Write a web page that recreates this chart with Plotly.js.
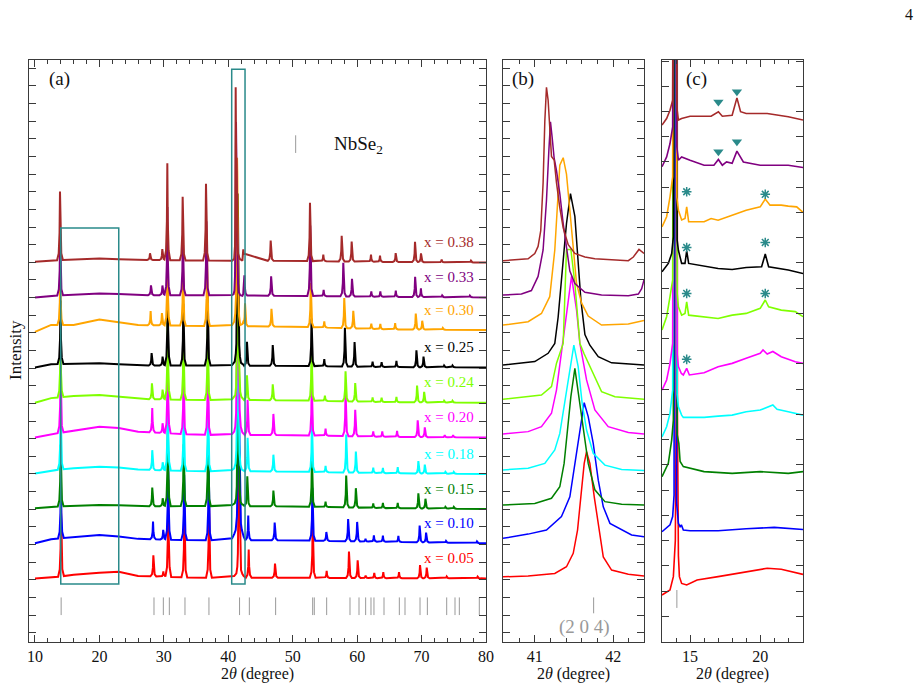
<!DOCTYPE html>
<html>
<head>
<meta charset="utf-8">
<script src="https://cdn.plot.ly/plotly-3.0.1.min.js"></script>
<style>
  html, body { margin: 0; padding: 0; background: #fff; }
  #chart { width: 919px; height: 687px; }
</style>
</head>
<body>
<div id="chart"></div>
<script>
// ---------------------------------------------------------------
// Nb(1-x)Se2 style powder patterns, offset vertically (x = 0.05 ... 0.38)
// ---------------------------------------------------------------
const compositions = ['x = 0.05', 'x = 0.10', 'x = 0.15', 'x = 0.18', 'x = 0.20',
                      'x = 0.24', 'x = 0.25', 'x = 0.30', 'x = 0.33', 'x = 0.38'];

// background of each offset pattern, [2θ, intensity]
const background = [
  [[10, 3.08], [12.5, 3.12], [16, 3.28], [20, 3.4], [23, 3.45], [26, 3.22], [35, 3.12], [50, 3.12], [65, 3.09], [80, 3.08]],
  [[10, 5.07], [12.5, 5.3], [16, 5.42], [20, 5.54], [23, 5.45], [26, 5.32], [35, 5.24], [50, 5.24], [65, 5.15], [80, 5.07]],
  [[10, 7.05], [12.5, 7.14], [16, 7.2], [20, 7.24], [23, 7.22], [26, 7.17], [35, 7.18], [50, 7.16], [65, 7.06], [80, 7.02]],
  [[10, 9.03], [12.5, 9.2], [16, 9.32], [20, 9.41], [23, 9.36], [26, 9.25], [35, 9.16], [50, 9.14], [65, 9.04], [80, 9.0]],
  [[10, 11.07], [12.5, 11.25], [16, 11.45], [20, 11.68], [23, 11.6], [26, 11.4], [35, 11.22], [50, 11.2], [65, 11.1], [80, 11.07]],
  [[10, 13.04], [12.5, 13.3], [16, 13.42], [20, 13.47], [23, 13.38], [26, 13.25], [35, 13.2], [50, 13.18], [65, 13.07], [80, 13.04]],
  [[10, 15.04], [12.5, 15.22], [16, 15.25], [20, 15.27], [23, 15.22], [26, 15.15], [35, 15.15], [50, 15.13], [65, 15.06], [80, 15.04]],
  [[10, 17.06], [12.5, 17.45], [16, 17.44], [20, 17.76], [23, 17.62], [26, 17.44], [35, 17.4], [50, 17.35], [65, 17.2], [80, 17.16]],
  [[10, 19.01], [12.5, 19.1], [16, 19.16], [20, 19.23], [23, 19.2], [26, 19.14], [35, 19.13], [50, 19.1], [65, 19.04], [80, 19.01]],
  [[10, 21.03], [12.5, 21.1], [16, 21.15], [20, 21.22], [23, 21.18], [26, 21.14], [35, 21.1], [50, 21.08], [65, 21.02], [80, 20.99]]
];

// Bragg peaks of each pattern outside the (2 0 4) window: positions (degree) and heights
const peakPositions = [
  [14.04, 28.37, 29.92, 30.69, 33.18, 37.0, 43.17, 47.25, 53.1, 55.27, 58.73, 60.08, 61.32, 62.66, 64.06, 66.5, 69.76, 70.8, 73.9, 78.7],
  [14.02, 28.32, 29.9, 30.67, 33.15, 36.95, 43.1, 47.2, 53.05, 55.22, 58.6, 60.0, 61.3, 62.6, 64.0, 66.4, 69.7, 70.7, 73.8, 78.6],
  [13.98, 28.2, 29.82, 30.62, 33.07, 36.85, 42.95, 47.0, 52.98, 55.1, 58.3, 59.8, 62.5, 64.0, 66.3, 69.5, 70.6, 73.7, 75.0],
  [13.98, 28.2, 29.82, 30.62, 33.07, 36.85, 43.0, 47.0, 52.98, 55.1, 58.3, 59.8, 62.5, 64.0, 66.3, 69.5, 70.5, 73.7, 75.0],
  [13.97, 28.2, 29.8, 30.6, 33.05, 36.82, 43.0, 47.0, 52.95, 55.1, 58.2, 59.7, 62.5, 63.9, 66.2, 69.4, 70.5, 73.6, 74.9],
  [13.96, 28.15, 29.8, 30.6, 33.03, 36.8, 42.9, 46.9, 52.92, 55.0, 58.2, 59.7, 62.4, 63.8, 66.1, 69.3, 70.4, 73.5, 74.8],
  [13.96, 28.1, 29.8, 30.6, 33.02, 36.8, 42.9, 46.9, 52.92, 54.9, 58.1, 59.6, 62.4, 63.8, 66.1, 69.2, 70.3, 73.5, 74.8],
  [13.92, 27.95, 29.7, 30.56, 32.97, 36.7, 42.6, 46.7, 52.8, 54.9, 58.0, 59.4, 62.2, 63.6, 65.9, 69.1, 70.1, 73.3],
  [13.9, 28.0, 29.78, 30.55, 32.94, 36.6, 42.5, 46.65, 52.72, 54.8, 57.85, 59.2, 62.2, 63.6, 66.0, 69.0, 69.9, 73.2, 77.5],
  [13.88, 27.85, 29.76, 30.54, 32.92, 36.54, 46.58, 52.68, 54.75, 57.6, 59.15, 62.15, 63.55, 65.98, 68.98, 69.91, 73.12, 77.67]
];
const peakHeights = [
  [4.0, 1.2, 0.3, 5.5, 4.0, 4.5, 1.6, 0.8, 3.2, 0.4, 1.5, 1.0, 0.15, 0.3, 0.35, 0.35, 0.75, 0.6, 0.1, 0.1],
  [3.6, 1.0, 0.55, 5.0, 3.7, 4.2, 1.4, 1.0, 3.0, 0.5, 1.25, 1.1, 0.15, 0.35, 0.35, 0.35, 0.95, 0.55, 0.1, 0.1],
  [3.5, 1.06, 0.45, 5.0, 3.5, 4.0, 1.7, 0.9, 2.8, 0.3, 1.8, 1.1, 0.25, 0.3, 0.3, 0.85, 0.55, 0.1, 0.1],
  [3.5, 1.12, 0.45, 5.0, 3.5, 4.0, 1.9, 0.95, 2.8, 0.35, 2.15, 1.2, 0.3, 0.3, 0.35, 0.7, 0.5, 0.1, 0.1],
  [3.8, 1.38, 0.55, 5.2, 3.6, 4.2, 2.0, 1.2, 3.0, 0.4, 2.56, 1.5, 0.3, 0.3, 0.35, 0.95, 0.55, 0.12, 0.12],
  [3.6, 0.9, 0.55, 5.0, 3.5, 4.0, 1.4, 0.9, 2.9, 0.3, 1.7, 1.04, 0.25, 0.25, 0.3, 0.95, 0.6, 0.1, 0.1],
  [3.6, 0.7, 0.5, 5.0, 3.5, 4.0, 1.36, 1.17, 2.7, 0.4, 2.2, 1.4, 0.3, 0.28, 0.35, 0.95, 0.6, 0.1, 0.1],
  [3.2, 0.8, 0.7, 4.5, 3.3, 3.9, 1.3, 1.0, 2.5, 0.35, 1.7, 1.0, 0.3, 0.3, 0.35, 0.9, 0.5, 0.1],
  [3.5, 0.55, 0.55, 5.0, 3.4, 4.2, 1.15, 1.1, 4.0, 0.35, 1.9, 1.0, 0.3, 0.3, 0.35, 1.15, 0.5, 0.1, 0.1],
  [3.9, 0.38, 0.63, 5.5, 3.6, 4.35, 1.15, 3.3, 0.38, 1.45, 1.13, 0.4, 0.35, 0.5, 1.15, 0.5, 0.15, 0.1]
];

// (2 0 4) reflection, measured points [2θ, intensity] between 40.6 and 42.4 degree
const reflection204 = [
  [[40.595, 3.17], [40.915, 3.21], [41.255, 3.36], [41.404, 3.74], [41.49, 4.5], [41.545, 5.82], [41.587, 7.7], [41.63, 9.6],
   [41.66, 10.26], [41.702, 9.6], [41.758, 7.7], [41.817, 5.82], [41.873, 4.3], [41.979, 3.55], [42.192, 3.32], [42.392, 3.21]],
  [[40.595, 5.35], [40.915, 5.59], [41.149, 5.82], [41.34, 6.58], [41.447, 7.7], [41.511, 9.6], [41.575, 11.49], [41.63, 13.04],
   [41.681, 12.25], [41.745, 10.73], [41.809, 8.65], [41.873, 7.14], [41.958, 6.2], [42.107, 5.82], [42.234, 5.54], [42.392, 5.44]],
  [[40.595, 7.24], [41.0, 7.33], [41.213, 7.62], [41.319, 8.28], [41.374, 9.6], [41.417, 11.49], [41.46, 13.38], [41.511, 14.99],
   [41.562, 13.38], [41.617, 11.49], [41.681, 9.6], [41.766, 8.1], [41.894, 7.43], [42.107, 7.28], [42.392, 7.24]],
  [[40.595, 9.23], [40.915, 9.32], [41.128, 9.6], [41.255, 10.36], [41.319, 11.3], [41.383, 13.0], [41.447, 14.89], [41.498, 16.31],
   [41.553, 15.08], [41.604, 13.0], [41.66, 11.49], [41.745, 10.17], [41.894, 9.5], [42.107, 9.25], [42.392, 9.19]],
  [[40.595, 11.27], [40.915, 11.4], [41.085, 11.68], [41.213, 12.44], [41.277, 13.77], [41.349, 16.1], [41.404, 17.9], [41.468, 20.2],
   [41.532, 18.3], [41.575, 16.4], [41.66, 14.33], [41.766, 12.63], [41.936, 11.68], [42.192, 11.35], [42.392, 11.27]],
  [[40.595, 13.23], [41.085, 13.47], [41.213, 13.95], [41.277, 15.28], [41.362, 16.4], [41.404, 21.7], [41.425, 21.73], [41.46, 21.73],
   [41.511, 19.8], [41.575, 16.4], [41.63, 15.8], [41.724, 14.9], [41.851, 13.67], [42.022, 13.38], [42.392, 13.23]],
  [[40.595, 15.18], [41.0, 15.37], [41.17, 15.84], [41.255, 16.4], [41.298, 17.9], [41.34, 19.8], [41.374, 21.7], [41.404, 23.2],
   [41.455, 24.9], [41.511, 23.6], [41.545, 21.7], [41.587, 18.9], [41.639, 16.9], [41.702, 16.3], [41.809, 15.65], [41.979, 15.3], [42.392, 15.18]],
  [[40.595, 17.44], [40.915, 17.63], [41.085, 18.1], [41.191, 19.05], [41.255, 21.7], [41.289, 24.5], [41.319, 26.5], [41.362, 26.93],
   [41.404, 26.0], [41.447, 23.95], [41.49, 21.7], [41.532, 19.8], [41.596, 18.7], [41.681, 17.95], [41.851, 17.44], [42.192, 17.5], [42.392, 17.7]],
  [[40.595, 19.14], [40.83, 19.2], [40.957, 19.4], [41.042, 20.2], [41.106, 21.7], [41.149, 24.5], [41.179, 27.3], [41.2, 28.96],
   [41.221, 28.1], [41.247, 26.9], [41.277, 26.2], [41.319, 24.9], [41.362, 23.2], [41.404, 21.7], [41.447, 20.5], [41.511, 19.8],
   [41.639, 19.3], [41.851, 19.14], [42.192, 19.1], [42.32, 19.2], [42.362, 19.5], [42.392, 20.0]],
  [[40.595, 21.09], [40.915, 21.2], [41.0, 21.5], [41.042, 21.9], [41.076, 22.8], [41.106, 25.5], [41.128, 29.0], [41.149, 30.92],
   [41.17, 30.2], [41.191, 28.5], [41.213, 27.0], [41.247, 26.8], [41.277, 25.5], [41.319, 24.1], [41.362, 22.96], [41.426, 22.0],
   [41.511, 21.5], [41.639, 21.3], [41.766, 21.2], [42.192, 21.09], [42.256, 21.3], [42.328, 21.73], [42.36, 21.6], [42.392, 21.5]]
];

// low-angle region (13-23 degree), magnified, [2θ, intensity]
const lowAngle = [
  [[13.0, 0.84], [13.57, 1.04], [13.81, 1.57], [13.95, 3.0], [14.01, 8], [14.05, 60], [14.1, 8], [14.17, 2.4], [14.24, 1.57],
   [14.4, 1.3], [14.76, 1.24], [15.5, 1.44], [17, 1.57], [18.5, 1.7], [20, 1.83], [20.5, 1.9], [21.5, 1.86], [22.5, 1.73], [23.05, 1.66]],
  [[13.0, 3.35], [13.57, 3.62], [13.76, 3.95], [13.86, 4.8], [13.95, 60], [14.04, 4.5], [14.17, 3.68], [14.29, 3.55], [14.38, 3.62],
   [14.52, 3.42], [15, 3.39], [17, 3.39], [19, 3.47], [21, 3.52], [23.05, 3.44]],
  [[13.0, 5.53], [13.45, 6.06], [13.69, 6.98], [13.81, 7.77], [13.95, 60], [14.08, 7.2], [14.2, 6.85], [14.29, 6.13], [14.52, 5.93],
   [15, 5.86], [16, 5.73], [18, 5.66], [20, 5.73], [22, 5.66], [23.05, 5.73]],
  [[13.0, 7.11], [13.33, 7.51], [13.57, 8.04], [13.76, 8.96], [13.95, 60], [14.08, 8.8], [14.17, 8.3], [14.4, 7.97], [14.52, 7.88],
   [16, 7.88], [17, 7.93], [18, 7.97], [19, 8.1], [20, 8.17], [20.9, 8.37], [21.2, 8.2], [22, 8.1], [23.05, 7.97]],
  [[13.0, 8.96], [13.33, 9.36], [13.57, 10.02], [13.76, 10.81], [13.95, 60], [14.08, 10.4], [14.17, 9.89], [14.38, 9.62], [14.52, 9.56],
   [14.76, 9.82], [14.95, 9.56], [16, 9.65], [17, 9.89], [18, 10.02], [19, 10.22], [20, 10.42], [20.2, 10.55], [20.5, 10.39],
   [20.9, 10.49], [21.5, 10.28], [22.5, 10.08], [23.05, 10.02]],
  [[13.0, 11.34], [13.33, 11.87], [13.57, 12.66], [13.76, 13.32], [13.95, 60], [14.08, 12.8], [14.17, 12.26], [14.4, 11.93],
   [14.64, 12.0], [14.76, 12.46], [14.9, 11.93], [16, 11.87], [17, 11.8], [18, 11.93], [19, 12.0], [20, 12.2], [20.36, 12.53],
   [20.6, 12.26], [21.5, 12.13], [22.5, 12.07], [23.05, 11.87]],
  [[13.0, 13.65], [13.45, 13.98], [13.69, 14.37], [13.81, 15.03], [13.95, 60], [14.08, 14.9], [14.17, 14.5], [14.4, 13.98],
   [14.64, 13.98], [14.76, 14.48], [14.9, 13.98], [16, 13.87], [17, 13.78], [18, 13.74], [19, 13.82], [20.1, 13.85], [20.36, 14.35],
   [20.6, 13.85], [22, 13.72], [23.05, 13.58]],
  [[13.0, 15.43], [13.33, 15.83], [13.57, 16.62], [13.76, 17.41], [13.93, 60], [14.06, 16.6], [14.17, 16.09], [14.4, 15.7],
   [14.64, 15.76], [14.76, 16.22], [14.9, 15.63], [16, 15.63], [16.5, 15.76], [17, 15.69], [18, 15.89], [19, 16.09], [20, 16.22],
   [20.36, 16.53], [20.7, 16.29], [21.5, 16.29], [22, 16.25], [22.6, 16.22], [23.05, 16.0]],
  [[13.0, 17.81], [13.33, 18.2], [13.57, 18.73], [13.76, 19.39], [13.93, 60], [14.06, 18.6], [14.17, 18.07], [14.4, 18.2],
   [15, 18.07], [16, 17.87], [16.7, 17.87], [17.02, 18.1], [17.3, 17.87], [17.6, 18.0], [18.0, 17.95], [18.34, 18.43], [18.8, 18.0],
   [20, 17.87], [22, 17.87], [23.05, 17.78]],
  [[13.0, 19.46], [13.33, 19.72], [13.57, 20.05], [13.76, 20.45], [13.92, 60], [14.05, 20.2], [14.17, 19.66], [14.4, 19.72],
   [15, 19.81], [16.5, 19.81], [17.02, 19.99], [17.3, 19.81], [18.0, 19.85], [18.34, 20.54], [18.6, 19.99], [19, 19.92],
   [20.5, 19.92], [22, 19.79], [23.05, 19.66]]
];

// NbSe2 reference reflections (degree)
const nbse2Refs = [14.06, 28.47, 29.92, 30.85, 33.28, 37.0, 41.75, 43.27, 47.35, 53.1, 53.35, 55.27, 58.89, 60.29,
                   61.32, 62.15, 62.61, 64.17, 66.55, 67.43, 69.76, 70.9, 73.9, 75.19, 75.86, 78.96];

// impurity reflections marked in the low-angle panel
const starX = [14.76, 20.36, 14.76, 20.36, 14.76, 20.36, 14.76];
const starY = [16.82, 16.72, 14.61, 14.81, 12.79, 12.79, 10.18];
const triangleX = [17.02, 18.34, 17.02, 18.34];
const triangleY = [20.38, 20.78, 18.4, 18.8];

// ---------------------------------------------------------------
const lineColors = ['#ff0000', '#0000ff', '#008000', '#00ffff', '#ff00ff',
                    '#7fff00', '#000000', '#ffa500', '#800080', '#a52a2a'];
const FONT = 'Liberation Serif';
const AXIS = '#3a3a3a';
const TEAL = '#2a8a8a';
const REF_GRAY = '#999999';

// line profile used to draw each Bragg peak of the wide panel: [offset (deg), fraction of height]
const PROFILE = [[-0.45, 0], [-0.2, 0.1], [-0.07, 0.4], [0, 1], [0.07, 0.4], [0.2, 0.1], [0.45, 0]];

function along(path, x) {
  if (x <= path[0][0]) return path[0][1];
  for (let k = 1; k < path.length; k++) {
    if (x <= path[k][0]) {
      const [x0, y0] = path[k - 1], [x1, y1] = path[k];
      return y0 + (y1 - y0) * (x - x0) / (x1 - x0);
    }
  }
  return path[path.length - 1][1];
}
function profileAt(dx) {
  if (dx <= PROFILE[0][0] || dx >= PROFILE[PROFILE.length - 1][0]) return 0;
  return along(PROFILE, dx);
}

function widePattern(i) {
  const bg = background[i];
  let xs = bg.map(p => p[0]);
  peakPositions[i].forEach(p => PROFILE.forEach(([dx]) => xs.push(p + dx)));
  const win = reflection204[i];
  const lo = win[0][0], hi = win[win.length - 1][0];
  xs = xs.filter(x => x < lo || x > hi);
  const pts = xs.map(x => {
    let y = along(bg, x);
    peakPositions[i].forEach((p, k) => { y += peakHeights[i][k] * profileAt(x - p); });
    return [x, y];
  }).concat(win);
  pts.sort((a, b) => a[0] - b[0]);
  return pts;
}

const traces = [];
// panel (a)
compositions.forEach((c, i) => {
  const pts = widePattern(i);
  traces.push({ x: pts.map(p => p[0]), y: pts.map(p => p[1]), xaxis: 'x', yaxis: 'y', type: 'scatter',
                mode: 'lines', line: { color: lineColors[i], width: 2 }, hoverinfo: 'skip', showlegend: false });
});
// panel (b)
compositions.forEach((c, i) => {
  traces.push({ x: reflection204[i].map(p => p[0]), y: reflection204[i].map(p => p[1]), xaxis: 'x2', yaxis: 'y2',
                type: 'scatter', mode: 'lines', line: { color: lineColors[i], width: 1.5 }, hoverinfo: 'skip', showlegend: false });
});
// panel (c)
compositions.forEach((c, i) => {
  traces.push({ x: lowAngle[i].map(p => p[0]), y: lowAngle[i].map(p => p[1]), xaxis: 'x3', yaxis: 'y3',
                type: 'scatter', mode: 'lines', line: { color: lineColors[i], width: 1.6 }, hoverinfo: 'skip', showlegend: false });
});

// reference reflection bars
function refBars(xa, ya, y0, y1) {
  const x = [], y = [];
  nbse2Refs.forEach(p => { x.push(p, p, null); y.push(y0, y1, null); });
  return { x, y, xaxis: xa, yaxis: ya, type: 'scatter', mode: 'lines', line: { color: REF_GRAY, width: 1 },
           hoverinfo: 'skip', showlegend: false };
}
traces.push(refBars('x', 'y', 1.0, 2.0));
traces.push(refBars('x2', 'y2', 1.1, 2.0));
traces.push(refBars('x3', 'y3', 0.33, 1.04));
// legend bar next to "NbSe2"
traces.push({ x: [50.46, 50.46], y: [27.2, 28.2], xaxis: 'x', yaxis: 'y', type: 'scatter', mode: 'lines',
              line: { color: REF_GRAY, width: 1 }, hoverinfo: 'skip', showlegend: false });

// impurity markers
traces.push({ x: starX, y: starY, xaxis: 'x3', yaxis: 'y3', type: 'scatter', mode: 'markers',
              marker: { symbol: 'asterisk-open', size: 8, color: TEAL, line: { color: TEAL, width: 1.5 } },
              hoverinfo: 'skip', showlegend: false, cliponaxis: false });
traces.push({ x: triangleX, y: triangleY, xaxis: 'x3', yaxis: 'y3', type: 'scatter', mode: 'markers',
              marker: { symbol: 'triangle-down', size: 9, color: TEAL },
              hoverinfo: 'skip', showlegend: false, cliponaxis: false });

// ---------------------------------------------------------------
// layout (pixel helpers for a 919 x 687 page, plot rows 60..642)
const L = 29, R = 116, T = 60, B = 45, PW = 919 - L - R, PH = 687 - T - B;
const px = v => (v - L) / PW;
const py = v => (687 - B - v) / PH;

function xAxis(domain, range, dtick, minorDtick, anchor) {
  return {
    domain, range, anchor, dtick, tick0: 0, ticks: 'inside', ticklen: 7, tickwidth: 1, tickcolor: AXIS,
    minor: { dtick: minorDtick, tick0: 0, ticks: 'inside', ticklen: 4, tickwidth: 1, tickcolor: AXIS, showgrid: false },
    showline: true, linecolor: AXIS, linewidth: 1, mirror: 'ticks', showgrid: false, zeroline: false,
    tickfont: { family: FONT, size: 16, color: '#111' },
    title: { text: '2<i>θ</i> (degree)', font: { family: FONT, size: 16, color: '#111' }, standoff: 0 },
    automargin: false, fixedrange: true
  };
}
function yAxis(range, anchor) {
  return {
    domain: [0, 1], range, anchor, dtick: 1, tick0: 0, ticks: 'inside', ticklen: 7, tickwidth: 1, tickcolor: AXIS,
    showticklabels: false, showline: true, linecolor: AXIS, linewidth: 1, mirror: 'ticks',
    showgrid: false, zeroline: false, automargin: false, fixedrange: true
  };
}

const annotations = [];
const panelLabel = (text, x, y) => annotations.push({ text, xref: 'paper', yref: 'paper', x: px(x), y: py(y),
  xanchor: 'center', yanchor: 'middle', showarrow: false, font: { family: FONT, size: 19, color: '#111' } });
panelLabel('(a)', 59, 79);
panelLabel('(b)', 523, 79);
panelLabel('(c)', 696, 79);

annotations.push({ text: 'NbSe<sub>2</sub>', xref: 'paper', yref: 'paper', x: px(332), y: py(145), xanchor: 'left',
  yanchor: 'middle', showarrow: false, font: { family: FONT, size: 19, color: '#111' } });
annotations.push({ text: '(2 0 4)', xref: 'x2', yref: 'y2', x: 41.64, y: 0.34, xanchor: 'center', yanchor: 'middle',
  showarrow: false, font: { family: FONT, size: 19, color: REF_GRAY } });
annotations.push({ text: 'Intensity', xref: 'paper', yref: 'paper', x: px(15), y: py(350), textangle: -90,
  xanchor: 'center', yanchor: 'middle', showarrow: false, font: { family: FONT, size: 17, color: '#111' } });
annotations.push({ text: '4', xref: 'paper', yref: 'paper', x: px(909), y: py(14), xanchor: 'center', yanchor: 'middle',
  showarrow: false, font: { family: FONT, size: 16, color: '#111' } });

compositions.forEach((c, i) => {
  const bg = background[i];
  annotations.push({ text: c, xref: 'x', yref: 'y', x: 70.0, y: bg[bg.length - 1][1] + 1.15, xanchor: 'left',
    yanchor: 'middle', showarrow: false, font: { family: FONT, size: 15, color: lineColors[i] } });
});

const shapes = [
  { type: 'rect', xref: 'x', yref: 'y', x0: 14.0, x1: 23.0, y0: 2.76, y1: 22.94, line: { color: TEAL, width: 1.5 } },
  { type: 'rect', xref: 'x', yref: 'y', x0: 40.53, x1: 42.6, y0: 2.76, y1: 31.94, line: { color: TEAL, width: 1.5 } }
];

const layout = {
  width: 919, height: 687,
  margin: { l: L, r: R, t: T, b: B, pad: 0 },
  paper_bgcolor: '#fff', plot_bgcolor: '#fff',
  font: { family: FONT, color: '#111' },
  showlegend: false, hovermode: false,
  xaxis: xAxis([0, px(486)], [9.07, 80], 10, 2, 'y'),
  xaxis2: xAxis([px(503), px(644)], [40.595, 42.392], 1, 0.2, 'y2'),
  xaxis3: xAxis([px(662), px(803)], [13.0, 23.05], 5, 1, 'y3'),
  yaxis: yAxis([-0.527, 32.47], 'x'),
  yaxis2: yAxis([-0.527, 32.47], 'x2'),
  yaxis3: yAxis([-1.02, 22.04], 'x3'),
  annotations, shapes
};

Plotly.newPlot('chart', traces, layout, { staticPlot: true, displayModeBar: false });
</script>
</body>
</html>
